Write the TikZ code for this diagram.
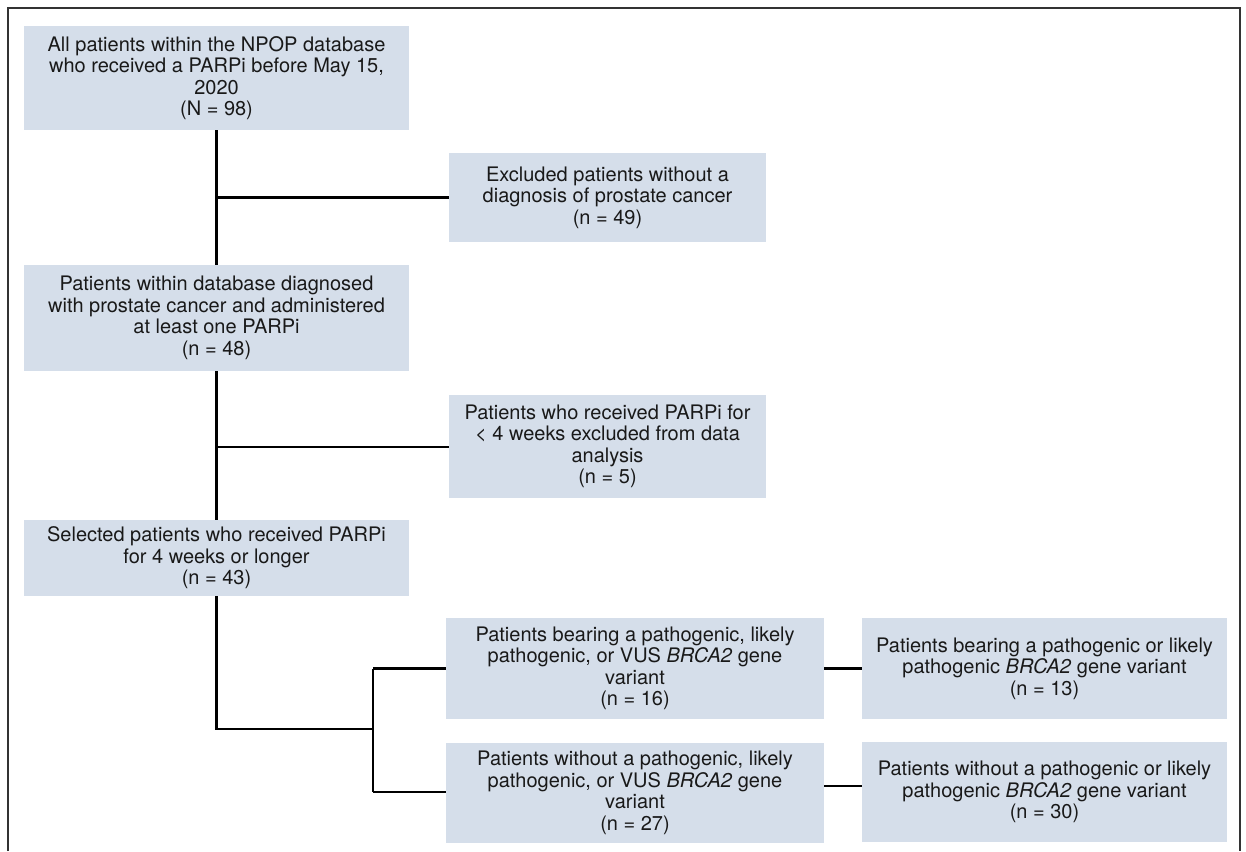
\documentclass[tikz,border=0pt]{standalone}
\usepackage{fontspec}
\setmainfont{TeX Gyre Heros}
\definecolor{boxfill}{HTML}{D5DEEA}
\definecolor{framecol}{HTML}{333333}
\begin{document}
\begin{tikzpicture}[x=1pt,y=-1pt,
  flowbox/.style={fill=boxfill, draw=none, align=center, inner sep=0pt,
    font=\fontsize{20}{21.5}\selectfont, text=black!90},
  conn/.style={line width=2.5pt, black}]
\useasboundingbox (0,0) rectangle (1246,851);
\draw[framecol, line width=1.8pt] (8,851) -- (8,8) -- (1240,8) -- (1240,851);
\node[flowbox, minimum width=385pt, minimum height=104pt] (b1) at (216.5,78)
  {All patients within the NPOP database\\who received a PARPi before May 15,\\2020\\(N = 98)};
\node[flowbox, minimum width=317pt, minimum height=89pt] (b2) at (607.5,197.5)
  {Excluded patients without a\\diagnosis of prostate cancer\\(n = 49)};
\node[flowbox, minimum width=385pt, minimum height=106pt] (b3) at (216.5,318)
  {Patients within database diagnosed\\with prostate cancer and administered\\at least one PARPi\\(n = 48)};
\node[flowbox, minimum width=317pt, minimum height=103pt] (b4) at (607.5,446.5)
  {Patients who received PARPi for\\< 4 weeks excluded from data\\analysis\\(n = 5)};
\node[flowbox, minimum width=385pt, minimum height=76pt] (b5) at (216.5,558)
  {Selected patients who received PARPi\\for 4 weeks or longer\\(n = 43)};
\node[flowbox, minimum width=378pt, minimum height=101pt] (b6) at (635,668.5)
  {Patients bearing a pathogenic, likely\\pathogenic, or VUS \textit{BRCA2} gene\\variant\\(n = 16)};
\node[flowbox, minimum width=378pt, minimum height=100pt] (b7) at (635,793)
  {Patients without a pathogenic, likely\\pathogenic, or VUS \textit{BRCA2} gene\\variant\\(n = 27)};
\node[flowbox, minimum width=365pt, minimum height=101pt] (b8) at (1044.5,668.5)
  {Patients bearing a pathogenic or likely\\pathogenic \textit{BRCA2} gene variant\\(n = 13)};
\node[flowbox, minimum width=365pt, minimum height=100pt] (b9) at (1044.5,792)
  {Patients without a pathogenic or likely\\pathogenic \textit{BRCA2} gene variant\\(n = 30)};
\coordinate (j1) at (216.5,197.5);
\coordinate (j2) at (216.5,447);
\coordinate (j3) at (216.5,729);
\coordinate (j4) at (373,729);
\coordinate (j5) at (373,668.5);
\coordinate (j6) at (373,792);
\draw[conn] (b1.south) -- (b3.north);
\draw[conn] (j1) -- (j1 -| b2.west);
\draw[conn] (b3.south) -- (b5.north);
\draw[conn] (j2) -- (j2 -| b4.west);
\draw[conn] (b5.south) -- (j3) -- (j4);
\draw[conn] (j5) -- (j6);
\draw[conn] (j5) -- (b6.west);
\draw[conn] (j6) -- (j6 -| b7.west);
\draw[conn] (b6.east) -- (b8.west);
\draw[conn] (b7.east |- 0,786) -- (b9.west |- 0,786);
\end{tikzpicture}
\end{document}
